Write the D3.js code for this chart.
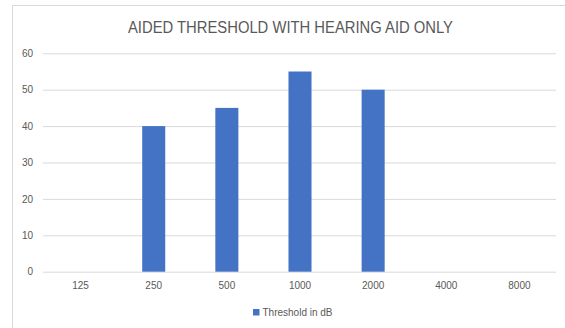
<!DOCTYPE html>
<html>
<head>
<meta charset="utf-8">
<script src="https://cdn.jsdelivr.net/npm/d3@7"></script>
<style>
  html, body { margin: 0; padding: 0; background: #fff; }
  svg { display: block; font-family: "Liberation Sans", "DejaVu Sans", sans-serif; }
</style>
</head>
<body>
<svg id="chart" width="565" height="328"></svg>
<script>
// Frequencies (Hz) and aided thresholds (dB); null = not measured
const frequencies = ["125", "250", "500", "1000", "2000", "4000", "8000"];
const thresholds = [null, 40, 45, 55, 50, null, null];
const yTicks = [0, 10, 20, 30, 40, 50, 60];
const chartTitle = "AIDED THRESHOLD WITH HEARING AID ONLY";
const seriesName = "Threshold in dB";

const svg = d3.select("#chart");
const textColor = "#595959";
const gridColor = "#d9d9d9";
const barColor = "#4472c4";

// chart frame
svg.append("rect")
  .attr("x", 12.5).attr("y", 5.5)
  .attr("width", 570).attr("height", 340)
  .attr("fill", "#fff")
  .attr("stroke", gridColor).attr("stroke-width", 1);

const x = d3.scaleBand()
  .domain(frequencies)
  .range([44, 556])
  .paddingInner(0.685)
  .paddingOuter(0.3425);

const y = d3.scaleLinear()
  .domain([0, 60])
  .range([271.7, 53.3]);

// title
svg.append("text")
  .attr("x", 290.5).attr("y", 33.3)
  .attr("text-anchor", "middle")
  .attr("font-size", 16)
  .attr("fill", textColor)
  .attr("textLength", 325)
  .attr("lengthAdjust", "spacingAndGlyphs")
  .text(chartTitle);

// gridlines + y labels
const yAxis = d3.axisLeft(y)
  .tickValues(yTicks)
  .tickSize(-(556 - 43))
  .tickPadding(10);
const gy = svg.append("g")
  .attr("transform", "translate(43,0)")
  .call(yAxis);
gy.select(".domain").remove();
gy.selectAll(".tick line").attr("stroke", gridColor).attr("stroke-width", 1);
gy.selectAll(".tick text")
  .attr("fill", textColor)
  .attr("font-size", 10)
  .attr("font-family", "Liberation Sans, sans-serif");

// x category labels
const xAxis = d3.axisBottom(x).tickSize(0).tickPadding(10);
const gx = svg.append("g")
  .attr("transform", `translate(0,${y(0)})`)
  .call(xAxis);
gx.select(".domain").remove();
gx.selectAll(".tick text")
  .attr("fill", textColor)
  .attr("font-size", 10)
  .attr("font-family", "Liberation Sans, sans-serif");

// bars
const rows = frequencies.map((f, i) => ({ f, v: thresholds[i] })).filter(d => d.v !== null);
svg.append("g").selectAll("rect")
  .data(rows)
  .join("rect")
  .attr("x", d => x(d.f))
  .attr("y", d => y(d.v))
  .attr("width", x.bandwidth())
  .attr("height", d => y(0) - y(d.v))
  .attr("fill", barColor);

// legend
const legend = svg.append("g").attr("transform", "translate(253,309)");
legend.append("rect")
  .attr("width", 6.5).attr("height", 6.5)
  .attr("fill", barColor);
legend.append("text")
  .attr("x", 9.5).attr("y", 3.5)
  .attr("dy", "0.35em")
  .attr("font-size", 10)
  .attr("fill", textColor)
  .text(seriesName);
</script>
</body>
</html>
